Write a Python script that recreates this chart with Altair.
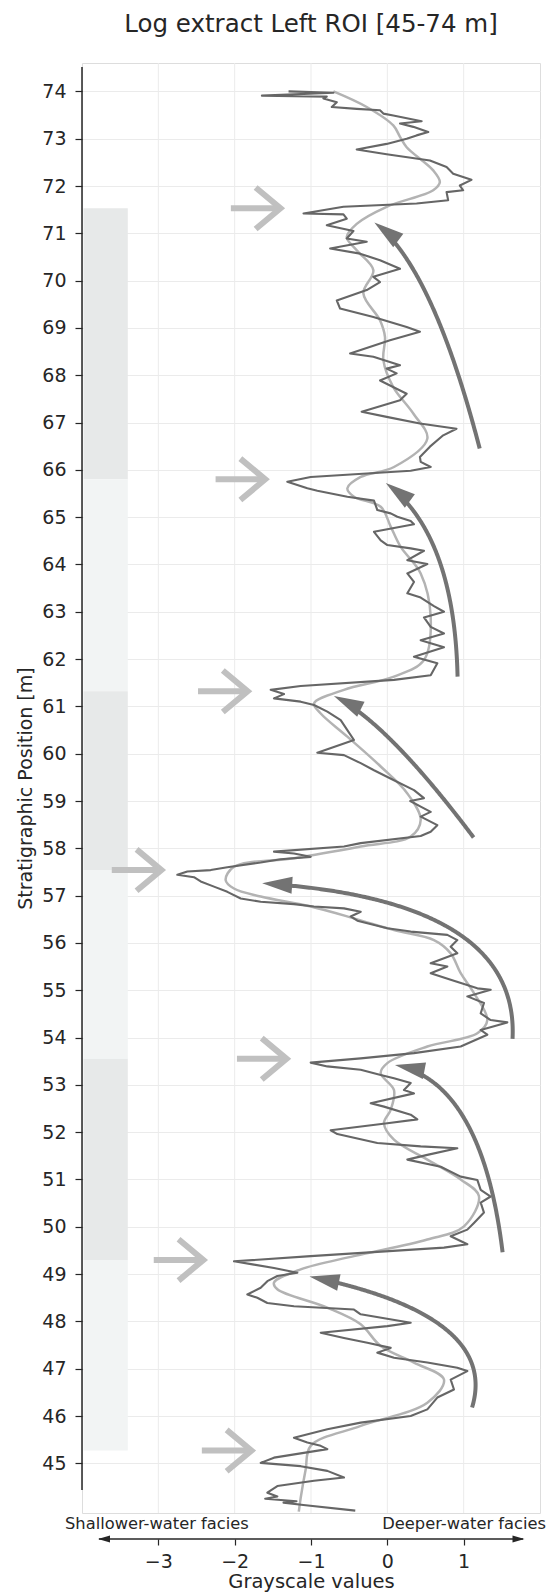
import math
import altair as alt
import numpy as np
import pandas as pd

# ---------------- data ----------------
raw_value = [
    -1.294, -0.706, -1.643, -0.793, -0.837, -0.662, -0.728, -0.401, -0.096, -0.052, 0.078, 0.449, 0.166, 0.340,
    0.536, 0.383, 0.253, -0.009, -0.401, -0.009, 0.558, 0.776, 0.863, 1.102, 0.950, 0.993, 0.776, 0.797, 0.383,
    -0.575, -1.098, -0.575, -0.532, -0.793, -0.444, -0.532, -0.270, -0.749, -0.357, -0.096, 0.166, -0.183, -0.096,
    -0.270, -0.662, -0.619, -0.183, 0.253, 0.427, 0.035, -0.488, -0.183, 0.166, -0.009, 0.122, -0.096, 0.253, 0.166,
    -0.336, -0.009, 0.427, 0.906, 0.732, 0.558, 0.427,
    0.437, 0.568, 0.306, -1.004, -1.310, -1.179, -1.048, -0.917, -0.524, -0.175, -0.131, 0.044, 0.131, 0.306, 0.349,
    -0.175, -0.087, 0.000, 0.306, 0.480, 0.262, 0.524, 0.262, 0.349, 0.262, 0.437, 0.611, 0.742, 0.480, 0.568, 0.742,
    0.437, 0.742, 0.349, 0.655, 0.568, 0.087, -1.135, -1.528, -1.354, -1.485, -1.135, -0.961, -0.786, -0.611, -0.524,
    -0.437, -0.917, -0.568, -0.349, -0.175, 0.087, 0.349, 0.480,
    0.300, 0.437, 0.568, 0.437, 0.655, 0.568, 0.437, -0.349, -0.568, -1.485, -1.223, -1.004, -1.397, -1.659, -2.096,
    -2.314, -2.620, -2.751, -2.533, -2.445, -2.271, -2.096, -1.921, -1.659, -1.223, -0.961, -0.568, -0.349, -0.480,
    -0.393, 0.000, 0.306, 0.786, 0.917, 0.830, 0.917, 0.568, 0.786, 0.568, 0.830, 1.179, 1.354, 1.048, 1.266, 1.223,
    1.354, 1.572, 1.223, 1.310, 0.961, 0.349, -0.349, -1.004, -0.786, -0.349, -0.087, 0.087, 0.306, 0.218, 0.349,
    -0.218, -0.044, 0.306, 0.393, 0.000, -0.742, -0.655, -0.131, 0.437, 0.917, 0.524, 0.262, 0.699, 0.961, 1.179,
    1.223, 1.354,
    1.223, 1.266, 1.135, 1.048, 0.830, 1.048, 0.742, -1.004, -2.009, -1.747, -1.485, -1.179, -1.441, -1.572, -1.659,
    -1.834, -1.703, -1.572, -1.223, -0.437, -0.349, 0.306, 0.000, -0.873, -0.568, -0.262, 0.044, -0.131, 0.087, 0.524,
    0.917, 1.048, 0.830, 0.873, 0.655, 0.524, 0.306, -0.349, -0.786, -1.223, -1.048, -0.873, -0.786, -1.485, -1.659,
    -1.135, -0.786, -0.568, -0.961, -1.441, -1.572, -1.441, -1.600, -1.190, -1.360, -1.100, -0.420,
]
raw_depth = [
    74.00, 73.97, 73.91, 73.89, 73.85, 73.77, 73.67, 73.63, 73.60, 73.53, 73.49, 73.37, 73.32, 73.25,
    73.14, 73.07, 73.00, 72.89, 72.77, 72.67, 72.54, 72.40, 72.26, 72.13, 72.01, 71.91, 71.87, 71.70, 71.63,
    71.56, 71.42, 71.40, 71.31, 71.17, 71.05, 70.89, 70.82, 70.68, 70.57, 70.43, 70.25, 70.08, 69.97,
    69.80, 69.58, 69.41, 69.23, 69.02, 68.92, 68.74, 68.46, 68.39, 68.21, 68.14, 68.04, 67.89, 67.61, 67.47,
    67.23, 67.12, 66.98, 66.87, 66.73, 66.49, 66.27,
    66.17, 66.06, 65.98, 65.85, 65.75, 65.68, 65.61, 65.56, 65.43, 65.35, 65.15, 65.08, 65.01, 64.92, 64.85,
    64.69, 64.51, 64.41, 64.34, 64.29, 64.09, 64.01, 63.81, 63.63, 63.39, 63.30, 63.12, 63.00, 62.88, 62.68, 62.54,
    62.40, 62.25, 62.05, 61.91, 61.66, 61.56, 61.43, 61.35, 61.26, 61.17, 61.10, 61.03, 60.89, 60.71, 60.50,
    60.29, 60.02, 59.97, 59.80, 59.65, 59.44, 59.23, 59.06,
    59.00, 58.88, 58.77, 58.67, 58.49, 58.35, 58.26, 58.11, 58.04, 57.93, 57.89, 57.82, 57.77, 57.70, 57.60,
    57.54, 57.51, 57.44, 57.39, 57.30, 57.19, 57.08, 56.94, 56.87, 56.82, 56.77, 56.73, 56.66, 56.56,
    56.47, 56.31, 56.24, 56.17, 56.06, 55.92, 55.78, 55.57, 55.50, 55.36, 55.22, 55.04, 55.01, 54.87, 54.73, 54.51,
    54.37, 54.32, 54.16, 54.06, 53.81, 53.67, 53.56, 53.47, 53.39, 53.32, 53.21, 53.14, 53.04, 52.89, 52.82,
    52.61, 52.54, 52.37, 52.27, 52.19, 52.04, 51.96, 51.77, 51.70, 51.66, 51.52, 51.42, 51.27, 51.06, 50.99,
    50.78, 50.64,
    50.51, 50.30, 50.08, 49.94, 49.80, 49.63, 49.56, 49.38, 49.27, 49.20, 49.13, 49.03, 48.96, 48.85, 48.71,
    48.57, 48.50, 48.39, 48.32, 48.25, 48.15, 47.97, 47.90, 47.76, 47.65, 47.55, 47.44, 47.34, 47.23, 47.13,
    47.02, 46.95, 46.77, 46.56, 46.39, 46.14, 46.00, 45.86, 45.72, 45.54, 45.44, 45.37, 45.30, 45.12, 45.01,
    44.94, 44.84, 44.70, 44.63, 44.52, 44.38, 44.30, 44.25, 44.20, 44.17, 44.12, 44.00,
]

smooth_value = [
    -0.706, -0.270, 0.078, 0.166, 0.253, 0.601, 0.688, 0.601, -0.009, -0.401, -0.532, -0.401, -0.183, -0.314,
    -0.096, -0.031, -0.052, 0.078, 0.340, 0.524, 0.087, -0.349, -0.524, -0.437, -0.087, 0.044, 0.175, 0.437,
    0.568, 0.480, 0.087, -0.568, -0.961, -0.873, -0.524, -0.087, 0.262, 0.437, 0.306, -0.349, -1.223, -2.009,
    -2.118, -2.009, -1.659, -1.004, -0.437, 0.087, 0.611, 0.830, 0.961, 1.135, 1.310, 1.179, 0.524, 0.000,
    -0.087, 0.087, 0.044, -0.044, 0.087, 0.524, 0.961, 1.200, 1.004, 0.524, -0.437, -1.135, -1.485, -1.441,
    -0.786, -0.349, -0.087, 0.349, 0.742, 0.524, -0.349, -1.004, -1.070, -1.135, -1.160,
]
smooth_depth = [
    74.00, 73.67, 73.28, 73.04, 72.82, 72.33, 72.08, 71.91, 71.56, 71.20, 70.92, 70.64, 70.22, 69.73,
    69.16, 68.81, 68.32, 67.75, 67.19, 66.66, 66.06, 65.85, 65.61, 65.43, 65.22, 64.80, 64.37, 63.81,
    62.89, 61.98, 61.63, 61.35, 61.06, 60.85, 60.36, 59.73, 59.16, 58.60, 58.25, 58.04, 57.79, 57.61,
    57.33, 57.15, 56.98, 56.77, 56.52, 56.27, 56.06, 55.78, 55.36, 54.94, 54.37, 54.09, 53.81, 53.46,
    53.25, 52.89, 52.47, 52.19, 51.84, 51.42, 51.00, 50.65, 50.01, 49.73, 49.38, 49.10, 48.82, 48.68,
    48.29, 47.94, 47.48, 47.13, 46.77, 46.28, 45.79, 45.37, 44.87, 44.27, 43.98,
]

band_top = [71.53, 65.80, 61.32, 57.54, 53.55, 49.30]
band_bottom = [65.80, 61.32, 57.54, 53.55, 49.30, 45.27]
band_kind = ["dark", "light", "dark", "light", "dark", "light"]

boundary_depth = [71.53, 65.80, 61.32, 57.54, 53.55, 49.30, 45.27]
boundary_tip = [-1.40, -1.60, -1.83, -2.96, -1.32, -2.41, -1.78]

trend_tail_x = [1.21, 0.92, 1.13, 1.64, 1.51, 1.11]
trend_tail_y = [66.45, 61.63, 58.23, 53.97, 49.46, 46.18]
trend_ctrl_x = [0.59, 0.878, -0.005, 1.736, 1.239, 1.473]
trend_ctrl_y = [70.30, 64.64, 60.67, 56.91, 53.06, 48.12]
trend_head_x = [-0.17, -0.02, -0.70, -1.64, 0.10, -1.02]
trend_head_y = [71.23, 65.72, 61.22, 57.26, 53.42, 48.95]

x_ticks = [-3, -2, -1, 0, 1]
y_ticks = list(range(45, 75))

# ---------------- layout / style ----------------
W, H = 458, 1450
X_MIN, X_MAX = -4.0, 2.0
Y_MIN, Y_MAX = 43.95, 74.6
FONT = "DejaVu Sans"
TXT = "#262626"
GRID = "#ebebeb"
BAND_X0, BAND_X1 = -3.98, -3.40
ARROW_LEN = 0.65

xs = alt.Scale(domain=[X_MIN, X_MAX], nice=False, zero=False)
ys = alt.Scale(domain=[Y_MIN, Y_MAX], nice=False, zero=False)

raw_df = pd.DataFrame({"i": range(len(raw_value)), "v": raw_value, "d": raw_depth})
smooth_df = pd.DataFrame({"i": range(len(smooth_value)), "v": smooth_value, "d": smooth_depth})
band_df = pd.DataFrame({"top": band_top, "bottom": band_bottom, "kind": band_kind})
bnd_df = pd.DataFrame({"d": boundary_depth, "tip": boundary_tip})
bnd_df["tail"] = bnd_df["tip"] - ARROW_LEN

# curved trend arrows: quadratic Bezier through the scales' pixel space
sx = W / (X_MAX - X_MIN)
sy = H / (Y_MAX - Y_MIN)
rows, heads = [], []
for k in range(len(trend_tail_x)):
    P0 = np.array([trend_tail_x[k] * sx, trend_tail_y[k] * sy])
    P1 = np.array([trend_ctrl_x[k] * sx, trend_ctrl_y[k] * sy])
    P2 = np.array([trend_head_x[k] * sx, trend_head_y[k] * sy])
    ts = np.linspace(0, 1, 240)
    pts = ((1 - ts) ** 2)[:, None] * P0 + (2 * (1 - ts) * ts)[:, None] * P1 + (ts ** 2)[:, None] * P2
    dist = np.hypot(pts[:, 0] - P2[0], pts[:, 1] - P2[1])
    pts = pts[dist >= 22]
    for j, (px, py) in enumerate(pts):
        rows.append({"arrow": k, "o": j, "x": px / sx, "y": py / sy})
    d = P2 - P1
    ang = math.degrees(math.atan2(d[0], d[1])) % 360
    heads.append({"x": trend_head_x[k], "y": trend_head_y[k], "angle": ang})
curve_df = pd.DataFrame(rows)
head_df = pd.DataFrame(heads)

# ---------------- layers ----------------
base_x = alt.X("v:Q", scale=xs, axis=alt.Axis(
    values=x_ticks, format="d", offset=26, domain=False, grid=False, tickSize=6, tickColor=TXT, tickWidth=1.2,
    labelFontSize=19, labelColor=TXT, labelFont=FONT, labelPadding=7,
    title="Grayscale values", titleFontSize=19.5, titleFontWeight="normal", titleColor=TXT,
    titleFont=FONT, titlePadding=1))
base_y = alt.Y("d:Q", scale=ys, axis=alt.Axis(
    values=y_ticks, domain=False, grid=True, gridColor=GRID, gridWidth=1, tickSize=7, tickColor=TXT,
    tickWidth=1.2, labelFontSize=19, labelColor=TXT, labelFont=FONT, labelPadding=9,
    title="Stratigraphic Position [m]", titleFontSize=19, titleFontWeight="normal", titleColor=TXT,
    titleFont=FONT, titlePadding=6))

bands = alt.Chart(band_df).mark_rect().encode(
    x=alt.datum(BAND_X0, scale=xs), x2=alt.datum(BAND_X1),
    y=alt.Y("top:Q", scale=ys), y2="bottom:Q",
    color=alt.Color("kind:N", scale=alt.Scale(domain=["dark", "light"], range=["#e7e9e9", "#f2f4f4"]),
                    legend=None),
)

vgrid = alt.Chart(pd.DataFrame({"v": x_ticks})).mark_rule(color=GRID, strokeWidth=1).encode(
    x=alt.X("v:Q", scale=xs))

spine = alt.Chart(pd.DataFrame({"a": [0]})).mark_rule(color=TXT, strokeWidth=1.5).encode(
    x=alt.value(0), y=alt.value(4), y2=alt.value(1427))

raw_line = alt.Chart(raw_df).mark_line(color="#666666", strokeWidth=2.1, strokeJoin="round").encode(
    x=base_x, y=base_y, order="i:Q")

smooth_line = alt.Chart(smooth_df).mark_line(
    color="#b3b3b3", strokeWidth=2.5, interpolate="catmull-rom").encode(
    x=alt.X("v:Q", scale=xs), y=alt.Y("d:Q", scale=ys), order="i:Q")

shafts = alt.Chart(bnd_df).mark_rule(color="#c0c0c0", strokeWidth=6).encode(
    x=alt.X("tail:Q", scale=xs), x2="tip:Q", y=alt.Y("d:Q", scale=ys))
chevrons = alt.Chart(bnd_df).mark_point(
    shape="M-1.2,-1L0,0L-1.2,1", filled=False, size=1714, strokeWidth=6, color="#c0c0c0", opacity=1
).encode(x=alt.X("tip:Q", scale=xs), y=alt.Y("d:Q", scale=ys))

curves = alt.Chart(curve_df).mark_line(color="#737373", strokeWidth=4, strokeCap="butt").encode(
    x=alt.X("x:Q", scale=xs), y=alt.Y("y:Q", scale=ys), detail="arrow:N", order="o:Q")
heads_l = alt.Chart(head_df).mark_point(
    shape="M0,0L0.28,1L-0.28,1Z", filled=True, size=3600, color="#737373", opacity=1, strokeWidth=0
).encode(x=alt.X("x:Q", scale=xs), y=alt.Y("y:Q", scale=ys), angle=alt.Angle("angle:Q", scale=None))

# facies arrow below the plot
facies_line = alt.Chart(pd.DataFrame({"a": [0]})).mark_rule(color=TXT, strokeWidth=1.5).encode(
    x=alt.value(17), x2=alt.value(441), y=alt.value(1476))
facies_r = alt.Chart(pd.DataFrame({"a": [0]})).mark_point(
    shape="M0,0L-2,-0.6L-2,0.6Z", filled=True, size=144, color=TXT, opacity=1).encode(
    x=alt.value(442.5), y=alt.value(1476))
facies_l = alt.Chart(pd.DataFrame({"a": [0]})).mark_point(
    shape="M0,0L2,-0.6L2,0.6Z", filled=True, size=144, color=TXT, opacity=1).encode(
    x=alt.value(16), y=alt.value(1476))
shallow = alt.Chart(pd.DataFrame({"t": ["Shallower-water facies"]})).mark_text(
    align="left", baseline="middle", fontSize=16.3, font=FONT, color=TXT).encode(
    text="t:N", x=alt.value(-17), y=alt.value(1461))
deep = alt.Chart(pd.DataFrame({"t": ["Deeper-water facies"]})).mark_text(
    align="right", baseline="middle", fontSize=16.3, font=FONT, color=TXT).encode(
    text="t:N", x=alt.value(464), y=alt.value(1461))

chart = alt.layer(
    bands, vgrid, spine, smooth_line, raw_line, shafts, chevrons, curves, heads_l,
    facies_line, facies_r, facies_l, shallow, deep,
).properties(
    width=W, height=H,
    title=alt.TitleParams("Log extract Left ROI [45-74 m]", fontSize=24.5, fontWeight="normal",
                          font=FONT, color=TXT, offset=25, anchor="middle"),
    padding={"left": 82, "top": 63, "right": 6, "bottom": 83},
    autosize=alt.AutoSizeParams(type="none"),
).configure_view(stroke=None).configure(font=FONT)

chart.save("out.html", embed_options={"renderer": "svg", "actions": False})
